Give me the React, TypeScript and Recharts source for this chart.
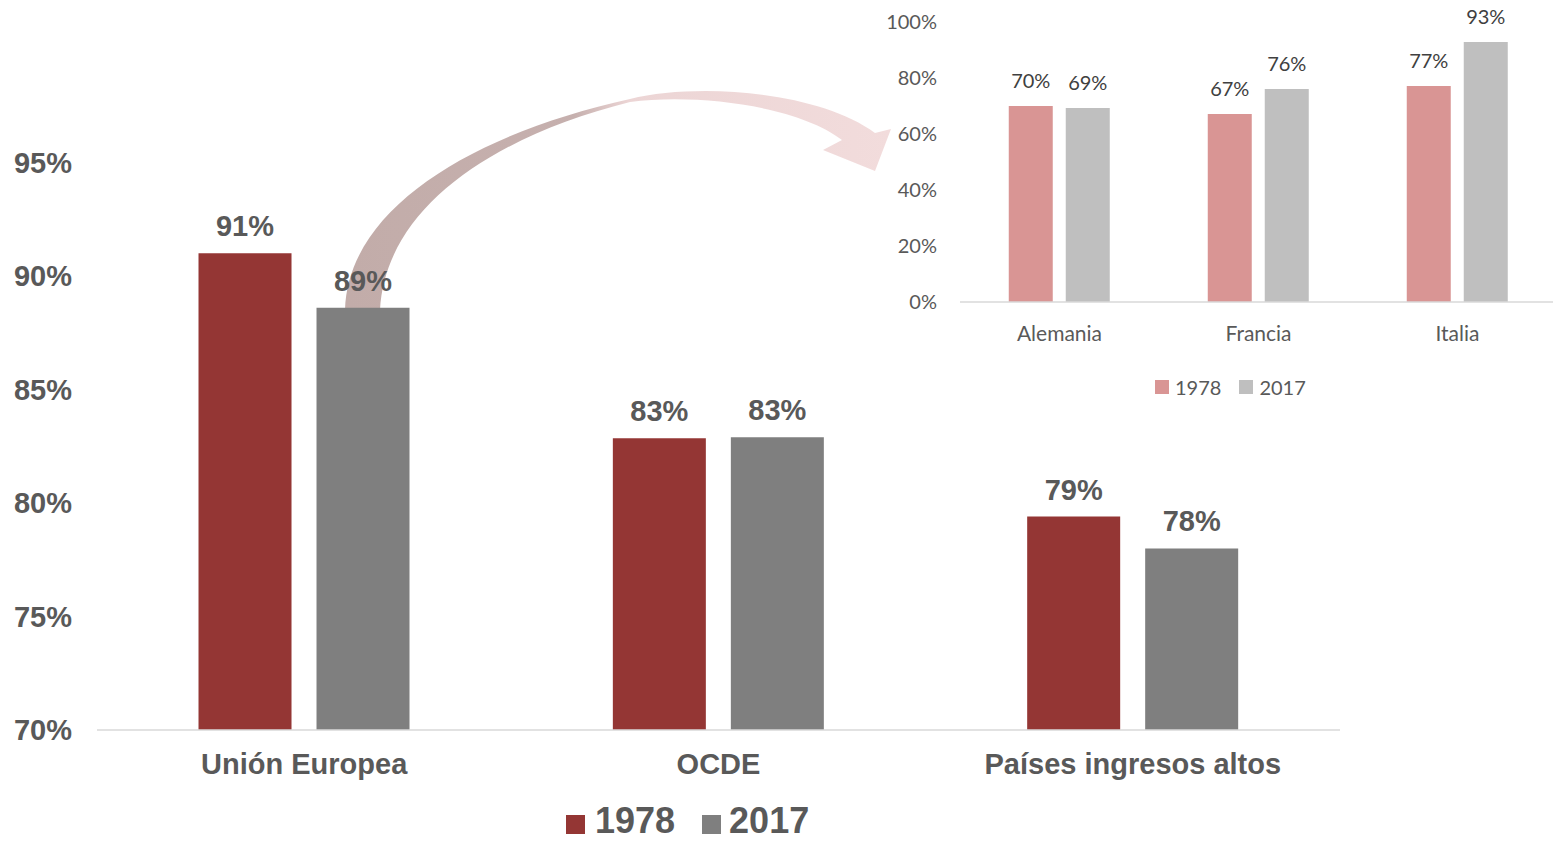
import { BarChart, Bar, XAxis, YAxis, LabelList } from 'recharts';

// main chart
const categories = ['Unión Europea', 'OCDE', 'Países ingresos altos'];
const values1978 = [91.0, 82.85, 79.4];
const values2017 = [88.6, 82.9, 78.0];
const mainTicks = [70, 75, 80, 85, 90, 95];

// inset chart (selected countries)
const insetCategories = ['Alemania', 'Francia', 'Italia'];
const inset1978 = [70.0, 67.1, 77.1];
const inset2017 = [69.3, 76.1, 92.9];
const insetTicks = [0, 20, 40, 60, 80, 100];

const mainData = categories.map((name, i) => ({ name, v1978: values1978[i], v2017: values2017[i] }));
const insetData = insetCategories.map((name, i) => ({ name, v1978: inset1978[i], v2017: inset2017[i] }));

const ARIAL = '"Liberation Sans", Arial, sans-serif';
const SMALL = 'Lato, "Open Sans", sans-serif';
const pct = (v: any) => `${Math.round(Number(v))}%`;

function CurvedArrow() {
  // decorative arrow from the EU bar up to the inset
  return (
    <svg width={1553} height={842} style={{ position: 'absolute', left: 0, top: 0 }}>
      <defs>
        <linearGradient id="arrowGrad" x1="345" y1="0" x2="891" y2="0" gradientUnits="userSpaceOnUse">
          <stop offset="0" stopColor="#c2aca9" />
          <stop offset="0.42" stopColor="#c6b0ae" />
          <stop offset="0.52" stopColor="#ecd5d5" />
          <stop offset="1" stopColor="#f2dcdc" />
        </linearGradient>
      </defs>
      <path
        d="M345,310 C348,205 480,132 630,99 C700,82 820,92 875,133 L891,129 L875,171 L823,150 L842,140 C800,107 700,93 630,102 C490,137 385,210 380,310 Z"
        fill="url(#arrowGrad)"
      />
    </svg>
  );
}

export default function App() {
  return (
    <div style={{ position: 'absolute', left: 0, top: 0, width: 1553, height: 842, overflow: 'hidden', background: '#fff' }}>
      <CurvedArrow />

      {/* main chart */}
      <div style={{ position: 'absolute', left: 0, top: 0 }}>
        <BarChart
          width={1360}
          height={842}
          data={mainData}
          margin={{ top: 49, right: 20, bottom: 52, left: 0 }}
          barCategoryGap="24.5%"
          barGap={25}
        >
          <XAxis
            dataKey="name"
            height={60}
            tickLine={false}
            tickMargin={17}
            axisLine={{ stroke: '#d9d9d9', strokeWidth: 1.5 }}
            tick={{ fill: '#595959', fontSize: 29, fontWeight: 700, fontFamily: ARIAL }}
          />
          <YAxis
            width={97}
            domain={[70, 100]}
            ticks={mainTicks}
            tickFormatter={pct}
            axisLine={false}
            tickLine={false}
            tickMargin={19}
            tick={{ fill: '#595959', fontSize: 29, fontWeight: 700, fontFamily: ARIAL }}
          />
          <Bar dataKey="v1978" fill="#943634" isAnimationActive={false}>
            <LabelList dataKey="v1978" position="top" offset={17} formatter={pct}
              fill="#595959" fontSize={29} fontWeight={700} fontFamily={ARIAL} />
          </Bar>
          <Bar dataKey="v2017" fill="#7f7f7f" isAnimationActive={false}>
            <LabelList dataKey="v2017" position="top" offset={17} formatter={pct}
              fill="#595959" fontSize={29} fontWeight={700} fontFamily={ARIAL} />
          </Bar>
        </BarChart>
      </div>

      {/* main legend */}
      <div style={{ position: 'absolute', left: 566, top: 804, display: 'flex', alignItems: 'center', height: 34,
        fontFamily: ARIAL, fontWeight: 700, fontSize: 36, color: '#595959', lineHeight: '34px' }}>
        <div style={{ width: 19, height: 19, background: '#943634', marginTop: 6 }} />
        <span style={{ marginLeft: 10 }}>1978</span>
        <div style={{ width: 19, height: 19, background: '#7f7f7f', marginTop: 6, marginLeft: 27 }} />
        <span style={{ marginLeft: 8 }}>2017</span>
      </div>

      {/* inset chart */}
      <div style={{ position: 'absolute', left: 880, top: 0 }}>
        <BarChart
          width={680}
          height={360}
          data={insetData}
          margin={{ top: 22, right: 3, bottom: 18, left: 0 }}
          barCategoryGap="24.5%"
          barGap={13}
        >
          <XAxis
            dataKey="name"
            height={40}
            tickLine={false}
            tickMargin={18}
            axisLine={{ stroke: '#d9d9d9', strokeWidth: 1.5 }}
            tick={{ fill: '#595959', fontSize: 21, fontFamily: SMALL }}
          />
          <YAxis
            width={80}
            domain={[0, 100]}
            ticks={insetTicks}
            tickFormatter={pct}
            axisLine={false}
            tickLine={false}
            tickMargin={17}
            tick={{ fill: '#595959', fontSize: 20, fontFamily: SMALL }}
          />
          <Bar dataKey="v1978" fill="#d99594" isAnimationActive={false}>
            <LabelList dataKey="v1978" position="top" offset={18} formatter={pct}
              fill="#404040" fontSize={20} fontFamily={SMALL} />
          </Bar>
          <Bar dataKey="v2017" fill="#bfbfbf" isAnimationActive={false}>
            <LabelList dataKey="v2017" position="top" offset={18} formatter={pct}
              fill="#404040" fontSize={20} fontFamily={SMALL} />
          </Bar>
        </BarChart>
      </div>

      {/* inset legend */}
      <div style={{ position: 'absolute', left: 1155, top: 376, display: 'flex', alignItems: 'center', height: 22,
        fontFamily: SMALL, fontSize: 20, color: '#595959', lineHeight: 1 }}>
        <div style={{ width: 14, height: 14, background: '#d99594' }} />
        <span style={{ marginLeft: 6 }}>1978</span>
        <div style={{ width: 14, height: 14, background: '#bfbfbf', marginLeft: 18 }} />
        <span style={{ marginLeft: 6 }}>2017</span>
      </div>
    </div>
  );
}
